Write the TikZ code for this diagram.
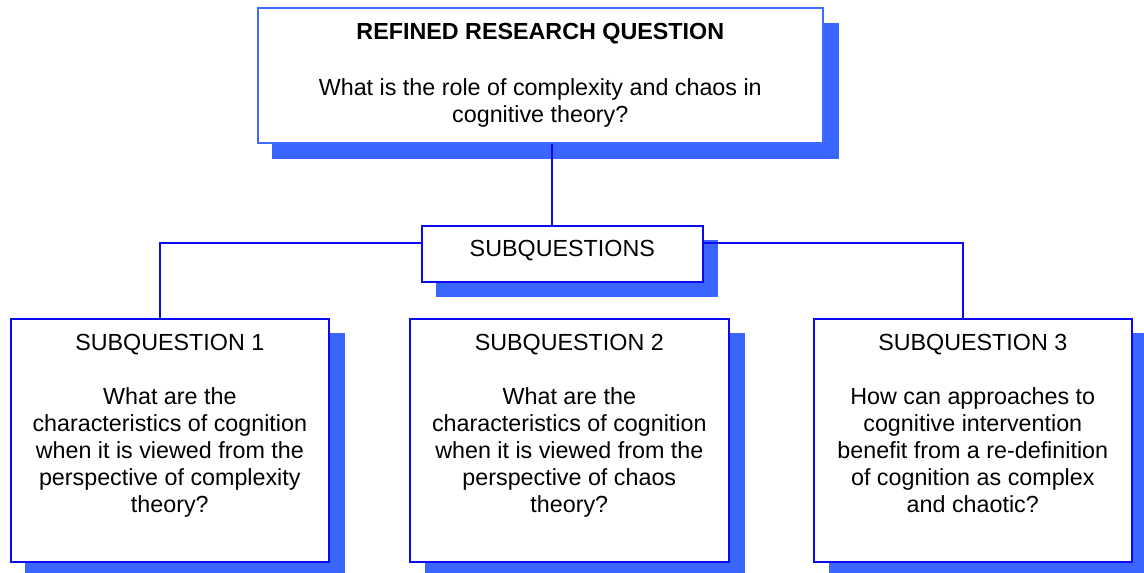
\documentclass[tikz,border=0pt]{standalone}
\usepackage{fontspec}
\setmainfont{Liberation Sans}
\definecolor{shade}{HTML}{3A66FF}
\definecolor{edge}{HTML}{0A0AF5}
\definecolor{edgelight}{HTML}{3F6BFF}
\begin{document}
\begin{tikzpicture}[x=1pt,y=-1pt,
  box/.style={draw=edge,line width=1.6pt,fill=white,rectangle,inner sep=0pt,anchor=north west},
  shadowbox/.style={fill=shade},
  link/.style={draw=edge,line width=1.3pt},
  txt/.style={font=\fontsize{23.3}{27}\selectfont,align=center,inner sep=0pt,anchor=north}]
\useasboundingbox (0,0) rectangle (1144,573);
% drop shadows
\fill[shadowbox] (272,23) rectangle (839,159);
\fill[shadowbox] (436,240) rectangle (718,297);
\fill[shadowbox] (25,333) rectangle (345,573);
\fill[shadowbox] (425,333) rectangle (745,573);
\fill[shadowbox] (829,333) rectangle (1144,573);
% frames
\node[box,draw=edgelight,minimum width=565pt,minimum height=135pt] (top) at (257,7) {};
\node[box,minimum width=281pt,minimum height=56pt] (subq) at (421,225) {};
\node[box,minimum width=318pt,minimum height=243pt] (q1) at (10,318) {};
\node[box,minimum width=319pt,minimum height=243pt] (q2) at (409,318) {};
\node[box,minimum width=318pt,minimum height=243pt] (q3) at (813,318) {};
% tree connectors
\coordinate (j0) at (552,0);
\coordinate (a1) at (160,0);
\coordinate (a3) at (963,0);
\coordinate (bar) at (0,243);
\draw[link] (top.south -| j0) -- (subq.north -| j0);
\draw[link] (subq.west |- bar) -- (a1 |- bar) -- (q1.north -| a1);
\draw[link] (subq.east |- bar) -- (a3 |- bar) -- (q3.north -| a3);
% labels
\node[txt,font=\fontsize{23.3}{27}\selectfont\bfseries] (ttop) at ([yshift=-16.5pt]top.north) {REFINED RESEARCH QUESTION};
\node[txt] (qtop) at ([yshift=-71pt]top.north) {What is the role of complexity and chaos in\\cognitive theory?};
\node[txt,anchor=center] (tsub) at ([yshift=3pt]subq.center) {SUBQUESTIONS};
\node[txt] (t1) at ([yshift=-16pt]q1.north) {SUBQUESTION 1\\[27pt]What are the\\characteristics of cognition\\when it is viewed from the\\perspective of complexity\\theory?};
\node[txt] (t2) at ([yshift=-16pt]q2.north) {SUBQUESTION 2\\[27pt]What are the\\characteristics of cognition\\when it is viewed from the\\perspective of chaos\\theory?};
\node[txt] (t3) at ([yshift=-16pt]q3.north) {SUBQUESTION 3\\[27pt]How can approaches to\\cognitive intervention\\benefit from a re-definition\\of cognition as complex\\and chaotic?};
\end{tikzpicture}
\end{document}
